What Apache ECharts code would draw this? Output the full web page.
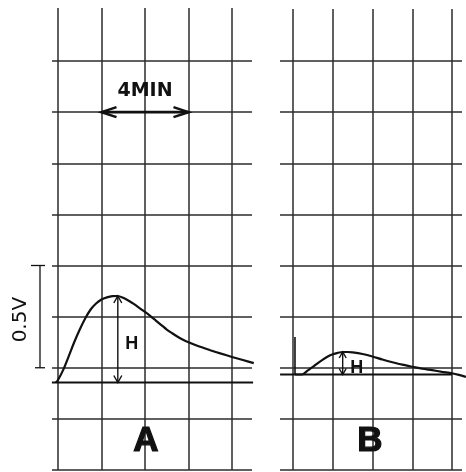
<!DOCTYPE html>
<html>
<head>
<meta charset="utf-8">
<script src="https://cdn.jsdelivr.net/npm/echarts@6/dist/echarts.min.js"></script>
<style>
  html, body { margin: 0; padding: 0; background: #fff; }
  #chart { width: 466px; height: 472px; }
</style>
</head>
<body>
<div id="chart"></div>
<script>
// Recorder trace A: time in minutes, signal above baseline in volts
const timeA = [-0.1, 0, 0.25, 0.5, 0.75, 1.0, 1.25, 1.5, 1.75, 2.0, 2.25, 2.5, 2.75, 3.0, 3.25, 3.5,
               3.75, 4.0, 4.25, 4.5, 4.75, 5.0, 5.25, 5.5, 5.75, 6.0, 6.5, 7.0, 7.5, 8.0, 8.5, 9.0];
const voltA = [0, 0.012, 0.064, 0.130, 0.198, 0.259, 0.313, 0.357, 0.386, 0.406, 0.416, 0.422, 0.423, 0.414, 0.400, 0.383,
               0.364, 0.345, 0.325, 0.303, 0.281, 0.259, 0.241, 0.224, 0.209, 0.197, 0.176, 0.158, 0.141, 0.125, 0.110, 0.095];

// Recorder trace B
const timeB = [0.1, 0.45, 0.75, 1.0, 1.25, 1.5, 1.75, 2.0, 2.25, 2.5, 2.75, 3.0, 3.5, 4.0,
               4.5, 5.0, 5.5, 6.0, 6.5, 7.0, 7.5, 8.0, 8.35, 8.7];
const voltB = [0, 0, 0.020, 0.037, 0.056, 0.073, 0.088, 0.099, 0.106, 0.110, 0.110, 0.108, 0.100, 0.088,
               0.073, 0.060, 0.048, 0.038, 0.028, 0.021, 0.013, 0.006, -0.002, -0.012];

// Baseline extents (minutes)
const baselineA = [-0.28, 8.97];
const baselineB = [-0.65, 8.0];

// Start mark on trace B: time (min) and height (V)
const startMarkB = [0.10, 0.183];

// Annotations
const panelNames = ['A', 'B'];
const timeScaleText = '4MIN';
const timeScaleSpan = [2, 6];      // minutes
const timeScaleRow = 7;            // chart division
const voltScaleText = '0.5V';
const voltScaleSpan = [2, 4];      // chart divisions (0.25 V per division)
const peakText = 'H';

const INK = '#111';
const GRID_INK = '#2b2b2b';

function peakOf(ts, vs) {
  let i = 0;
  vs.forEach((v, k) => { if (v > vs[i]) i = k; });
  return [ts[i], vs[i]];
}
const peakA = peakOf(timeA, voltA);
const peakB = peakOf(timeB, voltB);

const zip = (a, b) => a.map((v, i) => [v, b[i]]);

// Double-headed arrow between two data points, open chevron heads
function makeArrow(headLen, headHalf, width, label) {
  return function (params, api) {
    const p0 = api.coord([api.value(0), api.value(1)]);
    const p1 = api.coord([api.value(2), api.value(3)]);
    const dx = p1[0] - p0[0], dy = p1[1] - p0[1];
    const L = Math.hypot(dx, dy) || 1;
    const ux = dx / L, uy = dy / L, nx = -uy, ny = ux;
    const style = { stroke: INK, lineWidth: width, fill: null, lineJoin: 'miter' };
    const children = [
      { type: 'line', shape: { x1: p0[0], y1: p0[1], x2: p1[0], y2: p1[1] }, style },
      { type: 'polyline', shape: { points: [
        [p1[0] - ux * headLen + nx * headHalf, p1[1] - uy * headLen + ny * headHalf],
        p1,
        [p1[0] - ux * headLen - nx * headHalf, p1[1] - uy * headLen - ny * headHalf]] }, style },
      { type: 'polyline', shape: { points: [
        [p0[0] + ux * headLen + nx * headHalf, p0[1] + uy * headLen + ny * headHalf],
        p0,
        [p0[0] + ux * headLen - nx * headHalf, p0[1] + uy * headLen - ny * headHalf]] }, style }
    ];
    if (label) children.push(label(p0, p1));
    return { type: 'group', children };
  };
}

const hLabel = (p0, p1) => ({
  type: 'text',
  x: p0[0] + 14, y: (p0[1] + p1[1]) / 2 + 5,
  style: { text: peakText, font: 'bold 18px "Liberation Sans", Arial, sans-serif',
           fill: INK, align: 'center', verticalAlign: 'middle' }
});

const minLabel = (p0, p1) => ({
  type: 'text',
  x: (p0[0] + p1[0]) / 2, y: p0[1] - 21,
  style: { text: timeScaleText, font: 'bold 19px "DejaVu Sans", sans-serif',
           fill: INK, align: 'center', verticalAlign: 'middle' }
});

// Voltage scale bracket drawn just left of the grid
function voltBracket(params, api) {
  const x = params.coordSys.x - 12;
  const yLo = api.coord([0, api.value(0)])[1];
  const yHi = api.coord([0, api.value(1)])[1];
  const style = { stroke: INK, lineWidth: 1.3 };
  return {
    type: 'group',
    children: [
      { type: 'line', shape: { x1: x, y1: yLo, x2: x, y2: yHi }, style },
      { type: 'line', shape: { x1: x - 9, y1: yHi, x2: x + 5, y2: yHi }, style },
      { type: 'line', shape: { x1: x - 5, y1: yLo, x2: x + 5, y2: yLo }, style },
      { type: 'text', x: x - 19, y: (yLo + yHi) / 2 + 3, rotation: Math.PI / 2,
        style: { text: voltScaleText, font: '20px "DejaVu Sans", sans-serif', fill: INK,
                 align: 'center', verticalAlign: 'middle' } }
    ]
  };
}

const hidden = { axisLine: { show: false }, axisTick: { show: false }, axisLabel: { show: false } };
const gridLine = { show: true, lineStyle: { color: GRID_INK, width: 1.5 } };
const noLine = { show: false };

const traceStyle = { color: INK, width: 2.2 };
const smoothTrace = { type: 'line', symbol: 'none', smooth: 0.3, lineStyle: traceStyle };

const option = {
  backgroundColor: '#fff',
  animation: false,
  grid: [
    { left: 58, top: 8, width: 174, height: 462 },   // 0 A: time divisions
    { left: 52, top: 61, width: 200, height: 409 },  // 1 A: level divisions
    { left: 293, top: 9, width: 159, height: 461 },  // 2 B: time divisions
    { left: 280, top: 61, width: 182, height: 409 }, // 3 B: level divisions
    { left: 40, top: 8, width: 230, height: 462 },   // 4 A: traces
    { left: 275, top: 9, width: 191, height: 461 }   // 5 B: traces
  ],
  xAxis: [
    { type: 'value', gridIndex: 0, min: 0, max: 8, interval: 2, ...hidden, splitLine: gridLine },
    { type: 'value', gridIndex: 1, min: -0.276, max: 8.92, ...hidden, splitLine: noLine },
    { type: 'value', gridIndex: 2, min: 0, max: 8, interval: 2, ...hidden, splitLine: gridLine },
    { type: 'value', gridIndex: 3, min: -0.654, max: 8.50, ...hidden, splitLine: noLine },
    { type: 'value', gridIndex: 4, min: -0.8276, max: 9.7471, ...hidden, splitLine: noLine },
    { type: 'value', gridIndex: 5, min: -0.9057, max: 8.7044, ...hidden, splitLine: noLine }
  ],
  yAxis: [
    { type: 'value', gridIndex: 0, min: 0, max: 1, ...hidden, splitLine: noLine },
    { type: 'value', gridIndex: 1, min: 0, max: 8, interval: 1, ...hidden, splitLine: gridLine },
    { type: 'value', gridIndex: 2, min: 0, max: 1, ...hidden, splitLine: noLine },
    { type: 'value', gridIndex: 3, min: 0, max: 8, interval: 1, ...hidden, splitLine: gridLine },
    { type: 'value', gridIndex: 4, min: -0.4279, max: 1.8313, ...hidden, splitLine: noLine },
    { type: 'value', gridIndex: 5, min: -0.467, max: 1.787, ...hidden, splitLine: noLine }
  ],
  series: [
    // Panel A
    { type: 'line', xAxisIndex: 4, yAxisIndex: 4, symbol: 'none',
      data: baselineA.map(t => [t, 0]), lineStyle: traceStyle },
    { ...smoothTrace, xAxisIndex: 4, yAxisIndex: 4, data: zip(timeA, voltA) },
    { type: 'custom', xAxisIndex: 4, yAxisIndex: 4,
      data: [[peakA[0], 0, peakA[0], peakA[1]]],
      renderItem: makeArrow(7, 4, 1.4, hLabel) },
    { type: 'custom', xAxisIndex: 1, yAxisIndex: 1,
      data: [[timeScaleSpan[0], timeScaleRow, timeScaleSpan[1], timeScaleRow]],
      renderItem: makeArrow(15, 5, 2.6, minLabel) },
    { type: 'custom', xAxisIndex: 1, yAxisIndex: 1,
      data: [voltScaleSpan], renderItem: voltBracket },

    // Panel B
    { type: 'line', xAxisIndex: 5, yAxisIndex: 5, symbol: 'none',
      data: baselineB.map(t => [t, 0]), lineStyle: traceStyle },
    { type: 'line', xAxisIndex: 5, yAxisIndex: 5, symbol: 'none',
      data: [[startMarkB[0], 0], [startMarkB[0], startMarkB[1]]], lineStyle: { color: INK, width: 1.6 } },
    { ...smoothTrace, xAxisIndex: 5, yAxisIndex: 5, data: zip(timeB, voltB) },
    { type: 'custom', xAxisIndex: 5, yAxisIndex: 5,
      data: [[peakB[0], 0, peakB[0], peakB[1]]],
      renderItem: makeArrow(6, 3.5, 1.4, hLabel) }
  ],
  graphic: panelNames.map((name, i) => ({
    type: 'text',
    x: [146, 370][i], y: 441,
    style: { text: name, font: 'bold 35px "Liberation Sans", Arial, sans-serif', fill: INK,
             stroke: INK, lineWidth: 1.2, align: 'center', verticalAlign: 'middle' },
    z: 10
  }))
};

const chart = echarts.init(document.getElementById('chart'), null, { renderer: 'canvas' });
chart.setOption(option);
</script>
</body>
</html>
